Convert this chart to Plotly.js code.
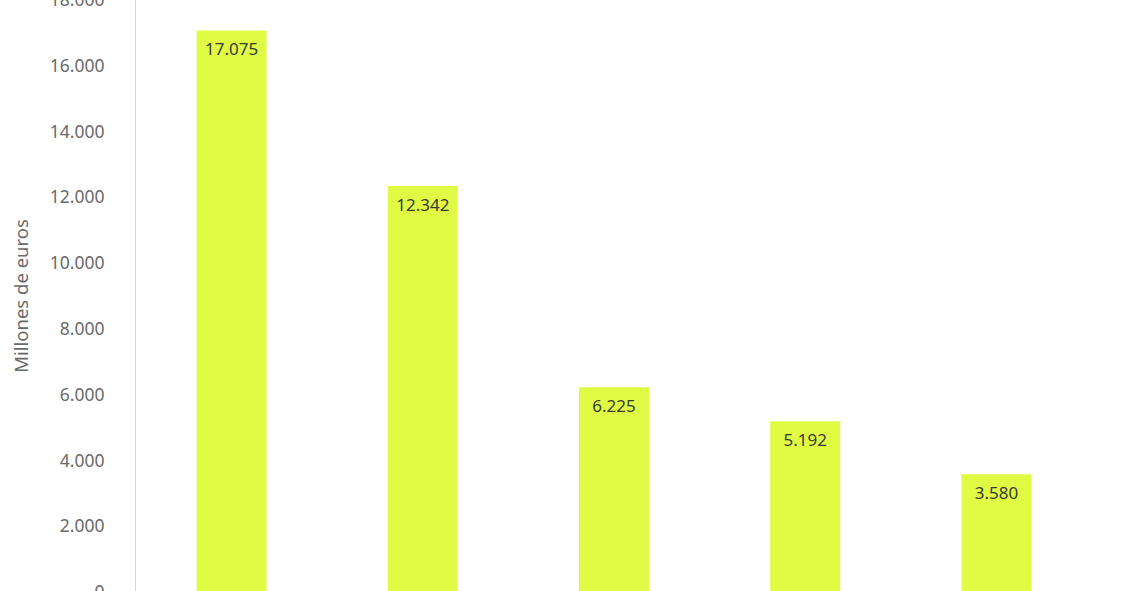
<!DOCTYPE html>
<html>
<head>
<meta charset="utf-8">
<script src="https://cdn.plot.ly/plotly-3.0.1.min.js"></script>
<style>
  html, body { margin: 0; padding: 0; background: #fff; overflow: hidden; }
  #plot { width: 1128px; height: 660px; }
</style>
</head>
<body>
<div id="plot"></div>
<script>
// categories sit below the visible area in the reference
const categories = ["Categoría 1", "Categoría 2", "Categoría 3", "Categoría 4", "Categoría 5"];
const values = [17075, 12342, 6225, 5192, 3580];
const tickVals = [0, 2000, 4000, 6000, 8000, 10000, 12000, 14000, 16000, 18000];

const font = "Noto Sans, Open Sans, sans-serif";

const data = [
    {
        type: "bar",
        x: categories,
        y: values,
        marker: { color: "#dffb44" },
        hoverinfo: "skip"
    },
    {
        // value labels just under the top of each bar (invisible marker pushes text down)
        type: "scatter",
        mode: "markers+text",
        x: categories,
        y: values,
        marker: { size: 18, color: "rgba(0,0,0,0)" },
        text: values.map(v => v.toLocaleString("es-ES", { useGrouping: "always" })),
        textposition: "bottom center",
        textfont: { family: font, size: 17, color: "#3a3a30" },
        hoverinfo: "skip"
    }
];

const layout = {
    width: 1128,
    height: 660,
    paper_bgcolor: "#ffffff",
    plot_bgcolor: "#ffffff",
    separators: ",.",
    margin: { l: 136, r: 36, t: 0, b: 68 },
    bargap: 0.634,
    showlegend: false,
    font: { family: font, color: "#666666" },
    xaxis: {
        showline: false,
        showgrid: false,
        zeroline: false,
        tickfont: { family: font, size: 17, color: "#666666" }
    },
    yaxis: {
        range: [0, 18000],
        tickvals: tickVals,
        tickformat: ",d",
        showgrid: false,
        zeroline: false,
        showline: true,
        linecolor: "#d9d9d9",
        linewidth: 1,
        ticks: "",
        ticklabelstandoff: 27,
        ticklabeloverflow: "allow",
        tickfont: { family: font, size: 17.5, color: "#6a6a6a" },
        title: {
            text: "Millones de euros",
            font: { family: font, size: 18.5, color: "#6a6a6a" },
            standoff: 16
        }
    }
};

Plotly.newPlot("plot", data, layout, { displayModeBar: false, staticPlot: true });
</script>
</body>
</html>
